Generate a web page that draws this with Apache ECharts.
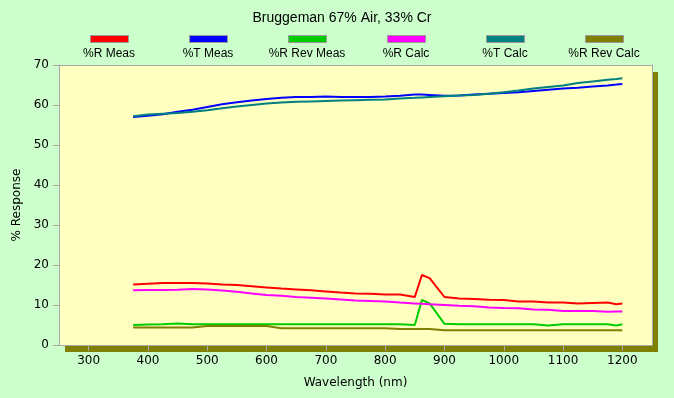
<!DOCTYPE html>
<html>
<head>
<meta charset="utf-8">
<script src="https://cdn.jsdelivr.net/npm/echarts@6/dist/echarts.min.js"></script>
<style>
  html, body { margin: 0; padding: 0; background: #ccffcc; }
  #chart { width: 674px; height: 398px; }
</style>
</head>
<body>
<div id="chart"></div>
<script>
// wavelength (nm)
var wavelengths = [375, 400, 425, 450, 475, 500, 525, 550, 575, 600, 625, 650, 675, 700, 725, 750, 775, 800, 825, 850, 862, 875, 900, 925, 950, 975, 1000, 1025, 1050, 1075, 1100, 1125, 1150, 1175, 1190, 1200];

var rMeas = [15.1, 15.3, 15.5, 15.5, 15.5, 15.4, 15.1, 15.0, 14.7, 14.4, 14.1, 13.9, 13.7, 13.4, 13.1, 12.9, 12.8, 12.6, 12.6, 12.0, 17.5, 16.7, 12.0, 11.6, 11.5, 11.3, 11.25, 10.9, 10.9, 10.6, 10.6, 10.4, 10.5, 10.6, 10.2, 10.4];
var tMeas = [57.0, 57.3, 57.7, 58.3, 58.8, 59.5, 60.2, 60.7, 61.1, 61.5, 61.8, 62.0, 62.0, 62.1, 62.0, 62.0, 62.0, 62.1, 62.3, 62.6, 62.6, 62.5, 62.3, 62.4, 62.6, 62.8, 63.0, 63.2, 63.5, 63.8, 64.1, 64.3, 64.6, 64.9, 65.1, 65.25];
var rRevMeas = [5.0, 5.1, 5.2, 5.4, 5.2, 5.2, 5.2, 5.2, 5.2, 5.2, 5.2, 5.2, 5.2, 5.2, 5.2, 5.2, 5.2, 5.2, 5.2, 5.0, 11.25, 10.4, 5.3, 5.2, 5.2, 5.2, 5.2, 5.2, 5.2, 4.9, 5.2, 5.2, 5.2, 5.2, 4.9, 5.2];
var rCalc = [13.7, 13.75, 13.75, 13.8, 14.0, 13.9, 13.6, 13.3, 12.9, 12.5, 12.3, 12.0, 11.8, 11.6, 11.4, 11.1, 11.0, 10.9, 10.6, 10.4, 10.3, 10.2, 10.0, 9.8, 9.7, 9.4, 9.25, 9.2, 8.9, 8.8, 8.5, 8.5, 8.5, 8.3, 8.4, 8.4];
var tCalc = [57.2, 57.6, 57.8, 58.0, 58.3, 58.7, 59.2, 59.6, 60.0, 60.4, 60.6, 60.8, 60.9, 61.0, 61.1, 61.2, 61.3, 61.4, 61.6, 61.8, 61.9, 62.0, 62.2, 62.4, 62.5, 62.8, 63.2, 63.6, 64.1, 64.5, 64.9, 65.5, 65.9, 66.3, 66.5, 66.7];
var rRevCalc = [4.4, 4.4, 4.4, 4.4, 4.4, 4.75, 4.75, 4.75, 4.75, 4.75, 4.2, 4.2, 4.2, 4.2, 4.2, 4.2, 4.2, 4.2, 4.0, 4.0, 4.0, 4.0, 3.7, 3.7, 3.7, 3.7, 3.7, 3.7, 3.7, 3.7, 3.7, 3.7, 3.7, 3.7, 3.7, 3.7];

var seriesNames = ['%R Meas', '%T Meas', '%R Rev Meas', '%R Calc', '%T Calc', '%R Rev Calc'];
var seriesColors = ['#ff0000', '#0000ff', '#00cc00', '#ff00ff', '#008080', '#808000'];
var seriesValues = [rMeas, tMeas, rRevMeas, rCalc, tCalc, rRevCalc];

var xTicks = [300, 400, 500, 600, 700, 800, 900, 1000, 1100, 1200];
var legendCenters = [109, 208, 307, 406, 505, 604];

var myChart = echarts.init(document.getElementById('chart'));

// one legend per series: the icon sits above its label, so labels are drawn as graphic text
var legends = [];
var labels = [];
for (var i = 0; i < seriesNames.length; i++) {
  legends.push({
    data: [seriesNames[i]],
    left: legendCenters[i] - 19,
    top: 35,
    padding: 0,
    icon: 'rect',
    itemWidth: 38,
    itemHeight: 7,
    selectedMode: false,
    itemStyle: { borderColor: '#999999', borderWidth: 1 },
    formatter: function () { return ''; }
  });
  labels.push({
    type: 'text',
    x: legendCenters[i],
    y: 54,
    style: {
      text: seriesNames[i],
      fontFamily: 'Liberation Sans',
      fontSize: 12,
      fill: '#000000',
      align: 'center',
      verticalAlign: 'middle'
    }
  });
}

var series = seriesNames.map(function (name, i) {
  return {
    name: name,
    type: 'line',
    showSymbol: false,
    symbol: 'none',
    color: seriesColors[i],
    lineStyle: { width: 2, color: seriesColors[i] },
    data: wavelengths.map(function (w, j) { return [w, seriesValues[i][j]]; })
  };
});

var frameLine = { show: true, onZero: false, lineStyle: { color: '#a8a8a8', width: 1 } };

var option = {
  backgroundColor: '#ccffcc',
  animation: false,
  title: {
    text: 'Bruggeman 67% Air, 33% Cr',
    left: 337,
    textAlign: 'center',
    top: 6,
    textStyle: { fontFamily: 'Liberation Sans', fontSize: 14, fontWeight: 'normal', color: '#000000' }
  },
  legend: legends,
  graphic: labels,
  grid: {
    left: 59,
    right: 22,
    top: 65,
    bottom: 53,
    show: true,
    backgroundColor: '#ffffc0',
    borderWidth: 0,
    shadowColor: '#808000',
    shadowBlur: 0,
    shadowOffsetX: 6,
    shadowOffsetY: 7
  },
  xAxis: [{
    type: 'value',
    min: 250,
    max: 1250,
    name: 'Wavelength (nm)',
    nameLocation: 'middle',
    nameGap: 32,
    nameTextStyle: { fontFamily: 'DejaVu Sans', fontSize: 12, color: '#000000' },
    axisLine: frameLine,
    axisTick: { show: true, length: 6, lineStyle: { color: '#a8a8a8' }, customValues: xTicks },
    axisLabel: {
      fontFamily: 'DejaVu Sans', fontSize: 12, color: '#000000', margin: 10, customValues: xTicks,
      formatter: function (v) { return String(v); }
    },
    splitLine: { show: false }
  }, {
    // top frame edge
    type: 'value',
    position: 'top',
    min: 250,
    max: 1250,
    axisLine: frameLine,
    axisTick: { show: false },
    axisLabel: { show: false },
    splitLine: { show: false }
  }],
  yAxis: [{
    type: 'value',
    min: 0,
    max: 70,
    interval: 10,
    name: '% Response',
    nameLocation: 'middle',
    nameGap: 36,
    nameTextStyle: { fontFamily: 'DejaVu Sans', fontSize: 12, color: '#000000' },
    axisLine: frameLine,
    axisTick: { show: true, length: 6, lineStyle: { color: '#a8a8a8' } },
    axisLabel: { fontFamily: 'DejaVu Sans', fontSize: 12, color: '#000000', margin: 10 },
    splitLine: { show: false }
  }, {
    // right frame edge
    type: 'value',
    position: 'right',
    min: 0,
    max: 70,
    interval: 10,
    axisLine: frameLine,
    axisTick: { show: false },
    axisLabel: { show: false },
    splitLine: { show: false }
  }],
  series: series
};

option && myChart.setOption(option);
</script>
</body>
</html>
